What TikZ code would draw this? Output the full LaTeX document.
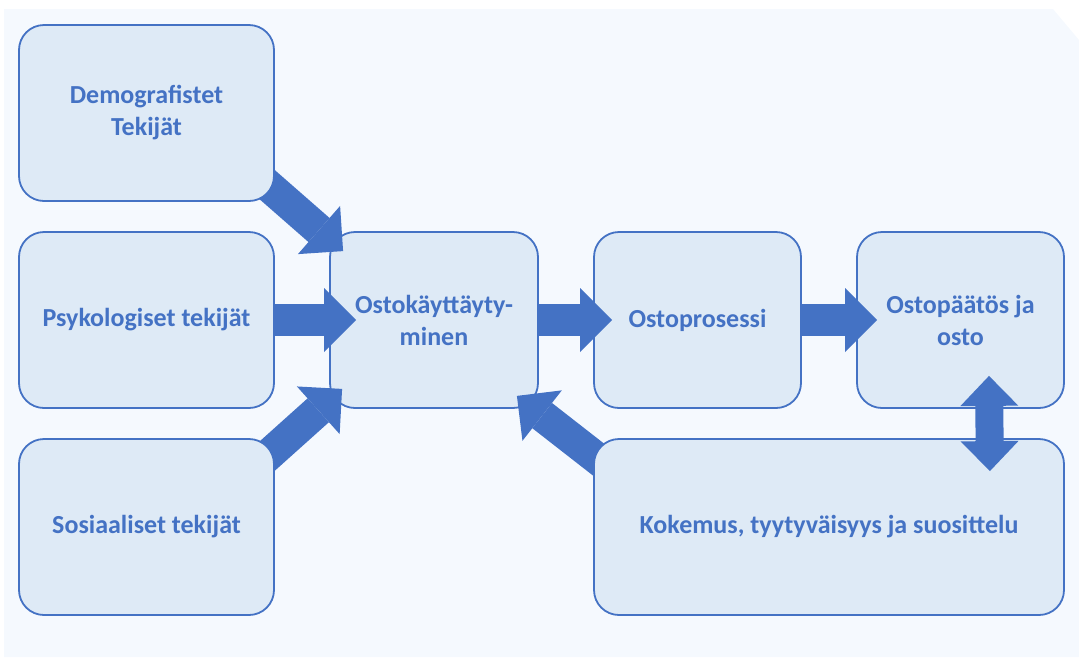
\documentclass[tikz,border=0pt]{standalone}
\usepackage{fontspec}
\setmainfont{Carlito}
\usetikzlibrary{arrows.meta,calc}
\definecolor{bluemain}{HTML}{4472C4}
\definecolor{boxfill}{HTML}{DEEAF6}
\definecolor{bgfill}{HTML}{F5F9FE}
\pgfdeclarelayer{back}
\pgfdeclarelayer{arrowlayer}
\pgfdeclarelayer{front}
\pgfsetlayers{back,arrowlayer,main,front}
\tikzset{
  box/.style={draw=bluemain, line width=1.8pt, fill=boxfill, rounded corners=25pt,
    text=bluemain, font=\bfseries\fontsize{26}{32}\selectfont, align=center,
    inner sep=0pt, minimum height=176pt},
  blockarrow/.style={draw=bluemain, line width=32pt,
    -{Triangle[length=32pt,width=64pt,line width=0pt,fill=bluemain]}},
  dblarrow/.style={draw=bluemain, line width=28pt,
    {Triangle[length=30pt,width=58pt,line width=0pt,fill=bluemain]}-{Triangle[length=30pt,width=58pt,line width=0pt,fill=bluemain]}}
}
\begin{document}
\begin{tikzpicture}[x=1pt,y=-1pt]
\useasboundingbox (0,0) rectangle (1079,657);
\begin{pgfonlayer}{back}
  \fill[bgfill] (4,9) -- (1053,9) -- (1079,40) -- (1079,657) -- (4,657) -- cycle;
  \node[box, minimum width=208pt] (ostok) at (434,320) {Ostokäyttäyty-\\minen};
  \node[box, minimum width=207pt] (proc) at (697.5,320) {Ostoprosessi};
  \node[box, minimum width=207pt] (paat) at (960.5,320) {Ostopäätös ja\\osto};
\end{pgfonlayer}
\node[box, minimum width=255pt] (demo) at (146.5,113) {Demografistet\\Tekijät};
\node[box, minimum width=255pt] (psy) at (146.5,320) {Psykologiset tekijät};
\node[box, minimum width=255pt] (sos) at (146.5,527) {Sosiaaliset tekijät};
\node[box, minimum width=470pt] (kok) at (829,527) {Kokemus, tyytyväisyys ja suosittelu};
\begin{pgfonlayer}{arrowlayer}
  \coordinate (s1) at ($(demo.south east)+(-20,-28)$);
  \coordinate (t1) at ($(ostok.north west)+(14,20)$);
  \coordinate (s3) at ($(sos.north east)+(-20,29)$);
  \coordinate (t3) at ($(ostok.south west)+(13,-20)$);
  \coordinate (s4) at ($(kok.north west)+(26,37.5)$);
  \coordinate (t4) at ($(ostok.south east)+(-22,-13)$);
  \coordinate (t2) at ($(ostok.west)+(27,0)$);
  \coordinate (t5) at ($(proc.west)+(19,0)$);
  \coordinate (t6) at ($(paat.west)+(21,0)$);
  \draw[blockarrow] (s1) -- (t1);
  \draw[blockarrow] (psy.east) -- (t2);
  \draw[blockarrow] (s3) -- (t3);
  \draw[blockarrow] (s4) -- (t4);
  \draw[blockarrow] (ostok.east) -- (t5);
  \draw[blockarrow] (proc.east) -- (t6);
\end{pgfonlayer}
\begin{pgfonlayer}{front}
  \coordinate (d1) at ($(paat.south)+(28.5,-33)$);
  \coordinate (d2) at ($(kok.north east)+(-75,33)$);
  \draw[dblarrow] (d1) -- (d2);
\end{pgfonlayer}
\end{tikzpicture}
\end{document}
